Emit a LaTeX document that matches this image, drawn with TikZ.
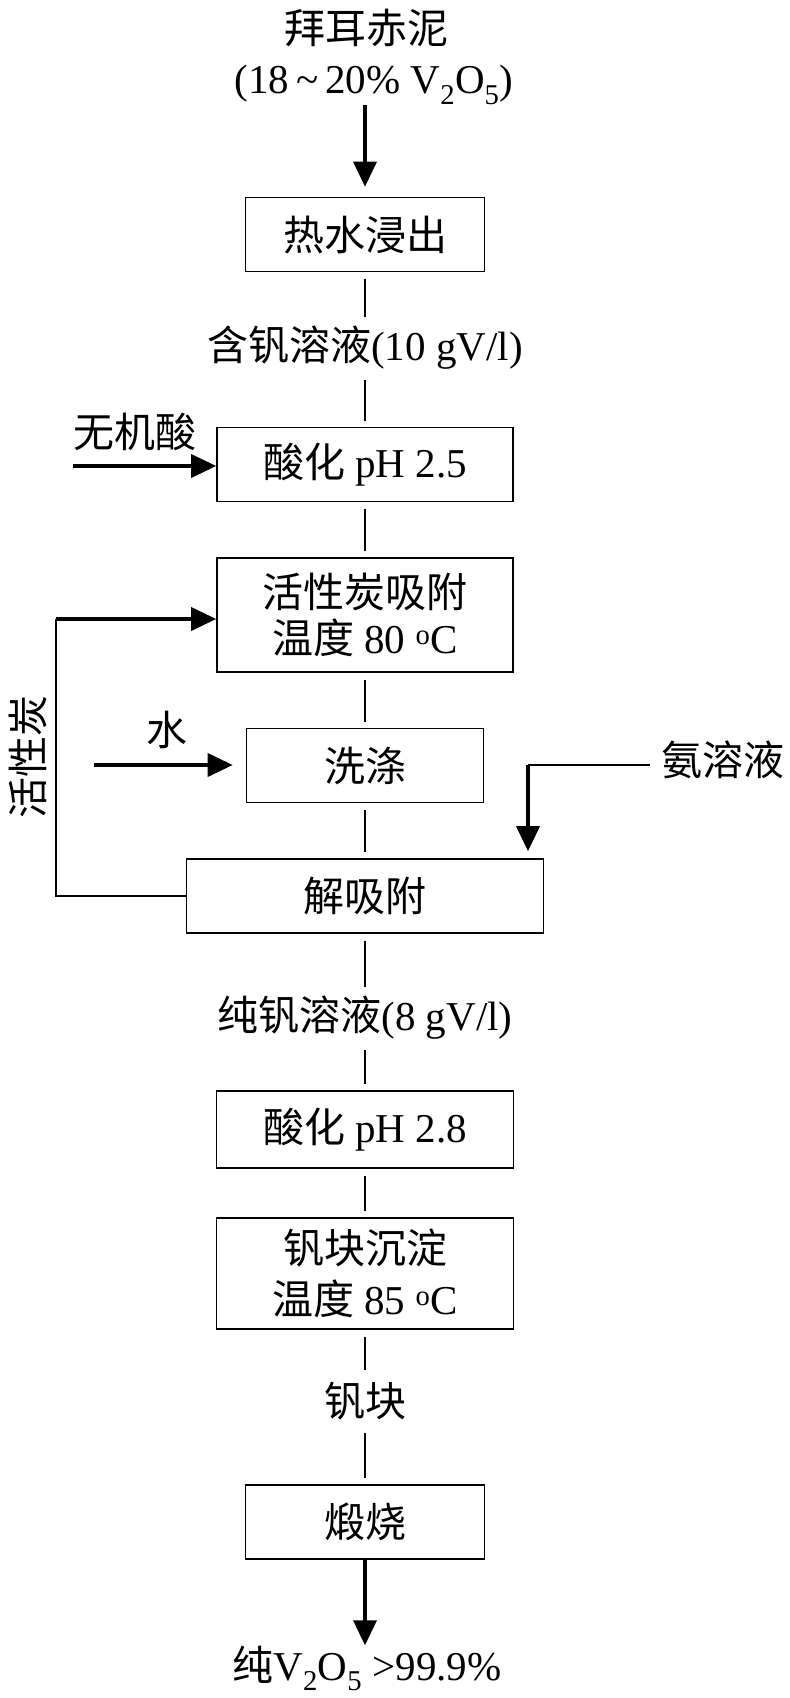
\documentclass[tikz,border=0pt]{standalone}
\usepackage{fontspec}
\setmainfont{Liberation Serif}
\newfontfamily\cjk{Noto Sans CJK SC}
\usetikzlibrary{arrows.meta}
\newcommand{\zh}[1]{{\cjk #1}}
\begin{document}
\begin{tikzpicture}[x=1pt,y=-1pt,
    every node/.style={font=\fontsize{41}{46}\selectfont, inner sep=0pt},
    stage/.style={draw, line width=1.6pt, minimum height=74pt, align=center},
    tag/.style={minimum height=50pt},
    link/.style={line width=1.2pt, shorten <=7pt, shorten >=6pt},
    feed/.style={line width=3.5pt, -{Triangle[length=25pt,width=23pt]}},
    back/.style={line width=2pt}]
    \useasboundingbox (0,0) rectangle (790,1698);
    \node (src) at (366,28) {\zh{拜耳赤泥}};
    \node (srcv) at (374,85) {(18\,\textasciitilde\,20\% V\textsubscript{2}O\textsubscript{5})};
    \node[stage, minimum width=239pt] (leach) at (365,234.5) {\zh{热水浸出}};
    \node[tag] (liq1) at (365,348) {\zh{含钒溶液}(10 gV/l)};
    \node[stage, minimum width=296pt] (acid1) at (365,464.5) {\zh{酸化} pH 2.5};
    \node[stage, minimum width=296pt, minimum height=114pt] (adsorb) at (365,615) {\zh{活性炭吸附}\\\zh{温度} 80 \textsuperscript{o}C};
    \node[stage, minimum width=237pt] (wash) at (365,765.5) {\zh{洗涤}};
    \node[stage, minimum width=357pt] (desorb) at (365,896) {\zh{解吸附}};
    \node[tag] (liq2) at (365,1018) {\zh{纯钒溶液}(8 gV/l)};
    \node[stage, minimum width=297pt, minimum height=77pt] (acid2) at (365,1129.5) {\zh{酸化} pH 2.8};
    \node[stage, minimum width=297pt, minimum height=111pt] (precip) at (365,1273.5) {\zh{钒块沉淀}\\[5pt]\zh{温度} 85 \textsuperscript{o}C};
    \node[tag] (cake) at (365,1401) {\zh{钒块}};
    \node[stage, minimum width=239pt] (calcine) at (365,1522) {\zh{煅烧}};
    \node (prod) at (367,1668) {\zh{纯}V\textsubscript{2}O\textsubscript{5} >99.9\%};
    \node (acidin) at (135,432) {\zh{无机酸}};
    \node (water) at (167,730) {\zh{水}};
    \node (ammonia) at (723,760) {\zh{氨溶液}};
    \node[rotate=90] (carbon) at (28,757) {\zh{活性炭}};
    \coordinate (acid start) at (73,466);
    \coordinate (water start) at (94,765);
    \coordinate (nh3 start) at (650,765);
    \coordinate (nh3 turn) at (528,765);
    \coordinate (loop top) at (56,619);
    \draw[feed, shorten >=10pt] (leach.north |- srcv.south) -- (leach.north);
    \draw[link] (leach) -- (liq1);
    \draw[link] (liq1) -- (acid1);
    \draw[link] (acid1) -- (adsorb);
    \draw[link] (adsorb) -- (wash);
    \draw[link] (wash) -- (desorb);
    \draw[link] (desorb) -- (liq2);
    \draw[link] (liq2) -- (acid2);
    \draw[link] (acid2) -- (precip);
    \draw[link] (precip) -- (cake);
    \draw[link] (cake) -- (calcine);
    \draw[feed] (calcine) -- (calcine.south |- prod.north);
    \draw[feed] (acid start) -- (acid start -| acid1.west);
    \draw[feed, shorten >=13pt] (water start) -- (water start -| wash.west);
    \draw[back] (nh3 start) -- (nh3 turn);
    \draw[feed, shorten >=7pt] (nh3 turn) -- (nh3 turn |- desorb.north);
    \draw[back] (desorb.west) -| (loop top);
    \draw[feed] (loop top) -- (loop top -| adsorb.west);
\end{tikzpicture}
\end{document}
